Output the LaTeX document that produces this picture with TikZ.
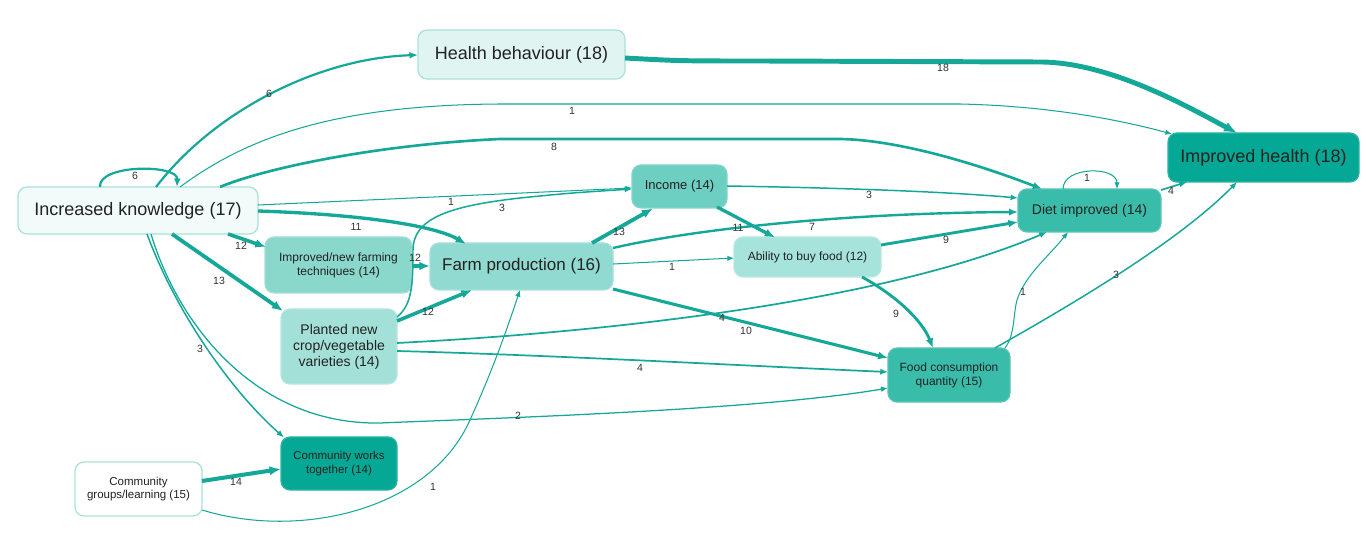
\documentclass[tikz,border=0pt]{standalone}
\usepackage{fontspec}
\setmainfont{Liberation Sans}
\usetikzlibrary{arrows.meta}
\definecolor{edge}{HTML}{15A898}
\definecolor{txt}{HTML}{222222}
\definecolor{lab}{HTML}{333333}
\definecolor{cIK}{HTML}{F2FBFA}
\definecolor{cHB}{HTML}{E0F5F2}
\definecolor{cIH}{HTML}{05A895}
\definecolor{cINC}{HTML}{6DCEC2}
\definecolor{cDI}{HTML}{39BCAA}
\definecolor{cIFT}{HTML}{8AD7CC}
\definecolor{cFP}{HTML}{91DAD1}
\definecolor{cAB}{HTML}{A6E3DB}
\definecolor{cPL}{HTML}{A3E1D8}
\definecolor{cFCQ}{HTML}{39BCAA}
\definecolor{cCWT}{HTML}{05A895}
\definecolor{cCG}{HTML}{FFFFFF}
\definecolor{bLight}{HTML}{A9E2DA}
\begin{document}
\begin{tikzpicture}[x=1pt,y=-1pt,
  box/.style={rounded corners=9pt, line width=1.2pt, inner sep=0pt, align=center, text=txt},
  flow/.style={draw=edge, line width={0.8pt+0.23pt*#1}, -{Latex[length=5pt 1.6,width=4pt 1.3]}},
  lbl/.style={font=\fontsize{10.5}{12}\selectfont, text=lab, inner sep=0pt},
]
\useasboundingbox[fill=white] (0,0) rectangle (1366,534);

% nodes
\node[box, fill=cIK, draw=bLight, minimum width=240pt, minimum height=47pt, font=\fontsize{18}{21}\selectfont] (IK) at (138,210.5) {Increased knowledge (17)};
\node[box, fill=cHB, draw=bLight, minimum width=207pt, minimum height=49pt, font=\fontsize{18}{21}\selectfont] (HB) at (521.5,54.5) {Health behaviour (18)};
\node[box, fill=cIH, draw=cIH!85!white, minimum width=191pt, minimum height=49pt, font=\fontsize{18}{21}\selectfont] (IH) at (1263.5,157.5) {Improved health (18)};
\node[box, fill=cINC, draw=cINC!85!white, minimum width=95pt, minimum height=43pt, font=\fontsize{13}{15}\selectfont] (INC) at (679.5,186.5) {Income (14)};
\node[box, fill=cDI, draw=cDI!85!white, minimum width=143pt, minimum height=43pt, font=\fontsize{14}{16}\selectfont] (DI) at (1089.5,210.5) {Diet improved (14)};
\node[box, fill=cIFT, draw=cIFT!80!white, minimum width=147pt, minimum height=56pt, font=\fontsize{12}{14}\selectfont] (IFT) at (338.5,265) {Improved/new farming\\techniques (14)};
\node[box, fill=cFP, draw=cFP!80!white, minimum width=183pt, minimum height=47pt, font=\fontsize{17}{20}\selectfont] (FP) at (521.5,266.5) {Farm production (16)};
\node[box, fill=cAB, draw=cAB!80!white, minimum width=147pt, minimum height=40pt, font=\fontsize{12}{14}\selectfont] (AB) at (807.5,257) {Ability to buy food (12)};
\node[box, fill=cPL, draw=cPL!80!white, minimum width=116pt, minimum height=75pt, font=\fontsize{14}{16}\selectfont] (PL) at (339,346.5) {Planted new\\crop/vegetable\\varieties (14)};
\node[box, fill=cFCQ, draw=cFCQ!85!white, minimum width=122pt, minimum height=54pt, font=\fontsize{12}{14}\selectfont] (FCQ) at (949,375) {Food consumption\\quantity (15)};
\node[box, fill=cCWT, draw=cCWT!85!white, minimum width=116pt, minimum height=53pt, font=\fontsize{11.5}{14}\selectfont] (CWT) at (339,463.5) {Community works\\together (14)};
\node[box, fill=cCG, draw=bLight, minimum width=127pt, minimum height=54pt, font=\fontsize{11.5}{13.5}\selectfont] (CG) at (138.5,489) {Community\\groups/learning (15)};

% connectors
\draw[flow=6] ([shift={(-38,-23.5)}]IK.center) .. controls (98,164) and (178,164) .. ([shift={(39,-23.5)}]IK.center);
\draw[flow=6] ([shift={(18,-23.5)}]IK.center) .. controls (215,110) and (320,58) .. ([shift={(-103.5,0.5)}]HB.center);
\draw[flow=1] ([shift={(42,-23.5)}]IK.center) .. controls (250,135) and (340,105) .. (500,104) -- (960,104) .. controls (1050,106) and (1120,120) .. ([shift={(-91.5,-23.5)}]IH.center);
\draw[flow=8] ([shift={(82,-23.5)}]IK.center) .. controls (260,170) and (370,145) .. (500,139) -- (840,139) .. controls (900,140) and (980,165) .. ([shift={(-47.5,-21.5)}]DI.center);
\draw[flow=18] ([shift={(103.5,3.5)}]HB.center) .. controls (680,61) .. (760,61) -- (1040,62) .. controls (1110,62) and (1190,108) .. ([shift={(-26.5,-24.5)}]IH.center);
\draw[flow=1] ([shift={(120,-5.5)}]IK.center) -- ([shift={(-47.5,1.5)}]INC.center);
\draw[flow=3] ([shift={(58,-29.5)}]PL.center) .. controls (412,305) and (413,285) .. (413,250) .. controls (413,218) and (450,206) .. (520,198) .. controls (570,193) .. ([shift={(-47.5,2.5)}]INC.center);
\draw[flow=11] ([shift={(120,0.5)}]IK.center) .. controls (350,214) and (432,224) .. ([shift={(-55.5,-22.5)}]FP.center);
\draw[flow=12] ([shift={(90,23.5)}]IK.center) -- ([shift={(-72.5,-18)}]IFT.center);
\draw[flow=13] ([shift={(34,23.5)}]IK.center) -- ([shift={(-56,-35.5)}]PL.center);
\draw[flow=3] ([shift={(9,23.5)}]IK.center) .. controls (175,310) and (230,390) .. ([shift={(-55,-26)}]CWT.center);
\draw[flow=2] ([shift={(13,23.5)}]IK.center) .. controls (180,330) and (260,425) .. (380,423) .. controls (500,418) and (760,410) .. ([shift={(-61,13)}]FCQ.center);
\draw[flow=12] ([shift={(73.5,1)}]IFT.center) -- ([shift={(-91.5,-0.5)}]FP.center);
\draw[flow=12] ([shift={(58,-25.5)}]PL.center) -- ([shift={(-49.5,23.5)}]FP.center);
\draw[flow=4] ([shift={(58,-3.5)}]PL.center) .. controls (650,330) and (900,295) .. ([shift={(-42.5,21.5)}]DI.center);
\draw[flow=4] ([shift={(58,4.5)}]PL.center) .. controls (550,355) and (750,366) .. ([shift={(-61,-3)}]FCQ.center);
\draw[flow=13] ([shift={(70.5,-23.5)}]FP.center) -- ([shift={(-26.5,22)}]INC.center);
\draw[flow=7] ([shift={(91.5,-18.5)}]FP.center) .. controls (700,228) and (850,213) .. ([shift={(-71.5,1.5)}]DI.center);
\draw[flow=1] ([shift={(91.5,-2.5)}]FP.center) -- ([shift={(-73.5,1)}]AB.center);
\draw[flow=10] ([shift={(91.5,22.5)}]FP.center) -- ([shift={(-61,-17)}]FCQ.center);
\draw[flow=3] ([shift={(47.5,-0.5)}]INC.center) .. controls (850,188) and (950,192) .. ([shift={(-71.5,-12.5)}]DI.center);
\draw[flow=11] ([shift={(37.5,20.5)}]INC.center) -- ([shift={(-32.5,-19.5)}]AB.center);
\draw[flow=9] ([shift={(73.5,-12)}]AB.center) -- ([shift={(-71.5,11.5)}]DI.center);
\draw[flow=9] ([shift={(54.5,20)}]AB.center) .. controls (895,295) and (922,320) .. ([shift={(-16,-27)}]FCQ.center);
\draw[flow=1] ([shift={(-26.5,-21.5)}]DI.center) .. controls (1063,166) and (1117,166) .. ([shift={(27.5,-21.5)}]DI.center);
\draw[flow=4] ([shift={(71.5,-20.5)}]DI.center) -- ([shift={(-76.5,24.5)}]IH.center);
\draw[flow=1] ([shift={(56,-27)}]FCQ.center) .. controls (1015,335) and (1013,315) .. (1017,300) .. controls (1025,275) and (1050,255) .. ([shift={(-21.5,21.5)}]DI.center);
\draw[flow=3] ([shift={(46,-27)}]FCQ.center) .. controls (1080,300) and (1180,240) .. ([shift={(-26.5,24.5)}]IH.center);
\draw[flow=14] ([shift={(63.5,-8)}]CG.center) -- ([shift={(-58,5.5)}]CWT.center);
\draw[flow=1] ([shift={(63.5,21)}]CG.center) .. controls (300,540) and (430,510) .. (470,420) .. controls (495,365) and (510,320) .. ([shift={(-1.5,23.5)}]FP.center);

% labels
\node[lbl] (l1) at (135,176) {6};
\node[lbl] (l2) at (269,94) {6};
\node[lbl] (l3) at (572,111) {1};
\node[lbl] (l4) at (554,147) {8};
\node[lbl] (l5) at (943,68) {18};
\node[lbl] (l6) at (451,202) {1};
\node[lbl] (l7) at (502,208) {3};
\node[lbl] (l8) at (356,227) {11};
\node[lbl] (l9) at (241,246) {12};
\node[lbl] (l10) at (219,281) {13};
\node[lbl] (l11) at (200,349) {3};
\node[lbl] (l12) at (518,416) {2};
\node[lbl] (l13) at (415,258) {12};
\node[lbl] (l14) at (428,312) {12};
\node[lbl] (l15) at (722,318) {4};
\node[lbl] (l16) at (640,368) {4};
\node[lbl] (l17) at (619,232) {13};
\node[lbl] (l18) at (812,227) {7};
\node[lbl] (l19) at (672,267) {1};
\node[lbl] (l20) at (746,331) {10};
\node[lbl] (l21) at (869,195) {3};
\node[lbl] (l22) at (738,228) {11};
\node[lbl] (l23) at (946,240) {9};
\node[lbl] (l24) at (896,314) {9};
\node[lbl] (l25) at (1087,178) {1};
\node[lbl] (l26) at (1171,191) {4};
\node[lbl] (l27) at (1023,292) {1};
\node[lbl] (l28) at (1116,275) {3};
\node[lbl] (l29) at (236,482) {14};
\node[lbl] (l30) at (433,487) {1};
\end{tikzpicture}
\end{document}
